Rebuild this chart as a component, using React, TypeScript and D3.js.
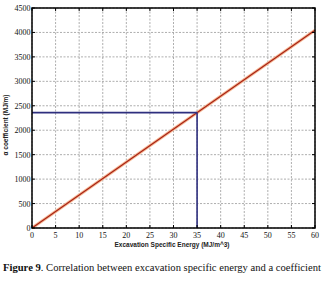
import React from "react";
import * as d3 from "d3";

const xTicks = [0, 5, 10, 15, 20, 25, 30, 35, 40, 45, 50, 55, 60];
const yTicks = [0, 500, 1000, 1500, 2000, 2500, 3000, 3500, 4000, 4500];
const lineX = [0, 60];
const lineY = [0, 4045];
const markX = 35;
const markY = 2360;

export default function App() {
  const W = 323, H = 281;
  const m = { l: 32, r: 315, t: 8, b: 228 };
  const x = d3.scaleLinear().domain([0, 60]).range([m.l, m.r]);
  const y = d3.scaleLinear().domain([0, 4500]).range([m.b, m.t]);
  const line = d3.line<number>().x((_, i) => x(lineX[i])).y((d) => y(d));
  const pathD = line(lineY) || "";
  const tickFont = "'Liberation Serif', serif";
  return (
    <div style={{ position: "absolute", left: 0, top: 0 }}>
      <svg width={W} height={H} style={{ display: "block", background: "#fff" }}>
        {xTicks.map((t) => (
          <line key={"gx" + t} x1={x(t)} x2={x(t)} y1={m.t} y2={m.b} stroke="#999" strokeWidth={0.8} strokeDasharray="2,1.5" />
        ))}
        {yTicks.map((t) => (
          <line key={"gy" + t} x1={m.l} x2={m.r} y1={y(t)} y2={y(t)} stroke="#999" strokeWidth={0.8} strokeDasharray="2,1.5" />
        ))}
        <path d={pathD} stroke="#f6b894" strokeWidth={3.2} fill="none" />
        <path d={pathD} stroke="#a82315" strokeWidth={1.2} fill="none" />
        <line x1={x(0)} x2={x(markX)} y1={y(markY)} y2={y(markY)} stroke="#2e2f7e" strokeWidth={1.6} />
        <line x1={x(markX)} x2={x(markX)} y1={y(markY)} y2={y(0)} stroke="#2e2f7e" strokeWidth={1.6} />
        {xTicks.map((t) => (
          <g key={"tx" + t}>
            <line x1={x(t)} x2={x(t)} y1={m.b} y2={m.b - 3} stroke="#000" strokeWidth={1} />
            <line x1={x(t)} x2={x(t)} y1={m.t} y2={m.t + 3} stroke="#000" strokeWidth={1} />
            <text x={x(t)} y={m.b + 10} textAnchor="middle" fontFamily={tickFont} fontSize={8} fill="#111">{t}</text>
          </g>
        ))}
        {yTicks.map((t) => (
          <g key={"ty" + t}>
            <line x1={m.l} x2={m.l + 3} y1={y(t)} y2={y(t)} stroke="#000" strokeWidth={1} />
            <line x1={m.r} x2={m.r - 3} y1={y(t)} y2={y(t)} stroke="#000" strokeWidth={1} />
            <text x={m.l - 1.5} y={y(t) + 3} textAnchor="end" fontFamily={tickFont} fontSize={8} fill="#111">{t}</text>
          </g>
        ))}
        <rect x={m.l} y={m.t} width={m.r - m.l} height={m.b - m.t} fill="none" stroke="#000" strokeWidth={1.5} />
        <text x={172} y={247} textAnchor="middle" fontFamily="'Liberation Sans', Arial, sans-serif" fontWeight="bold" fontSize={6.5} fill="#222">Excavation Specific Energy (MJ/m^3)</text>
        <text transform="translate(8,125) rotate(-90)" textAnchor="middle" fontFamily="'Liberation Sans', Arial, sans-serif" fontWeight="bold" fontSize={6.5} fill="#222">α coefficient (MJ/m)</text>
        <text x={3} y={271} fontFamily={tickFont} fontSize={10.5} fill="#111" textLength={318} lengthAdjust="spacingAndGlyphs">
          <tspan fontWeight="bold">Figure 9</tspan>. Correlation between excavation specific energy and a coefficient
        </text>
      </svg>
    </div>
  );
}
